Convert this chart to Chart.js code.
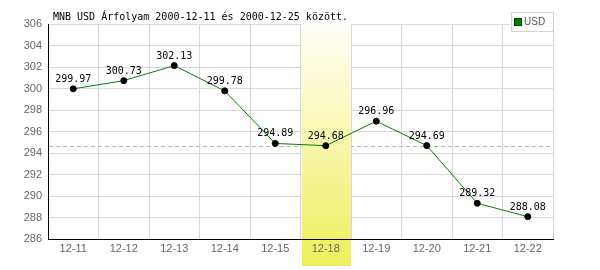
<!DOCTYPE html>
<html><head><meta charset="utf-8">
<script src="https://cdn.jsdelivr.net/npm/chart.js@4/dist/chart.umd.min.js"></script>
<style>html,body{margin:0;padding:0;background:#fff}#wrap{width:600px;height:270px;position:relative}</style>
</head><body><div id="wrap"><canvas id="c" width="600" height="270"></canvas></div>
<script>
const categories = ['12-11','12-12','12-13','12-14','12-15','12-18','12-19','12-20','12-21','12-22'];
const usdValues = [299.97,300.73,302.13,299.78,294.89,294.68,296.96,294.69,289.32,288.08];
const yTicks = [286,288,290,292,294,296,298,300,302,304,306];
const highlightCategory = '12-18';
const referenceValue = 294.68;
const titleText = 'MNB USD Árfolyam 2000-12-11 és 2000-12-25 között.';
const seriesName = 'USD';

const MONO = '10px "DejaVu Sans Mono", monospace';
const SANS = '10px "Liberation Sans", Arial, sans-serif';

const extras = {
  id: 'extras',
  beforeDatasetsDraw(chart) {
    const ctx = chart.ctx, a = chart.chartArea;
    const x = chart.scales.x, y = chart.scales.y;
    const ry = Math.round(y.getPixelForValue(referenceValue)) + 0.5;
    ctx.save();
    ctx.strokeStyle = '#99cc99';
    ctx.lineWidth = 1;
    ctx.setLineDash([4, 3]);
    ctx.beginPath(); ctx.moveTo(a.left + 1, ry); ctx.lineTo(a.right, ry); ctx.stroke();
    ctx.restore();
    const idx = categories.indexOf(highlightCategory);
    const cx = x.getPixelForValue(idx);
    const half = (x.getPixelForValue(1) - x.getPixelForValue(0)) / 2;
    const x0 = Math.round(cx - half) + 1, x1 = Math.round(cx + half);
    const top = a.top, bot = chart.height - 4;
    const g = ctx.createLinearGradient(0, top, 0, bot);
    g.addColorStop(0, '#fffff8');
    g.addColorStop(1, '#eeee5c');
    ctx.save();
    ctx.fillStyle = g;
    ctx.fillRect(x0, top, x1 - x0, bot - top);
    ctx.restore();
  },
  afterDatasetsDraw(chart) {
    const ctx = chart.ctx;
    const meta = chart.getDatasetMeta(0);
    ctx.save();
    ctx.font = MONO;
    ctx.fillStyle = '#000';
    ctx.textAlign = 'center';
    ctx.textBaseline = 'alphabetic';
    meta.data.forEach((p, i) => {
      ctx.fillText(usdValues[i].toFixed(2), p.x, p.y - 7);
    });
    ctx.restore();
  },
  afterDraw(chart) {
    const ctx = chart.ctx, a = chart.chartArea;
    ctx.save();
    ctx.font = MONO;
    ctx.fillStyle = '#000';
    ctx.textAlign = 'left';
    ctx.textBaseline = 'alphabetic';
    ctx.fillText(titleText, 53, 20);
    const lx = a.right - 42, ly = 12;
    ctx.fillStyle = '#fff';
    ctx.fillRect(lx, ly, 42, 19);
    ctx.strokeStyle = '#d4d4d4';
    ctx.lineWidth = 1;
    ctx.strokeRect(lx + 0.5, ly + 0.5, 42, 19);
    ctx.fillStyle = '#008000';
    ctx.fillRect(lx + 4, ly + 7, 6, 6);
    ctx.strokeStyle = '#004400';
    ctx.strokeRect(lx + 3.5, ly + 6.5, 7, 7);
    ctx.fillStyle = '#555';
    ctx.font = SANS;
    ctx.textBaseline = 'middle';
    ctx.fillText(seriesName, lx + 13, ly + 10.5);
    ctx.restore();
  }
};

new Chart(document.getElementById('c'), {
  type: 'line',
  data: {
    labels: categories,
    datasets: [{
      label: seriesName,
      data: usdValues,
      borderColor: '#008000',
      borderWidth: 1,
      pointRadius: 3,
      pointBorderWidth: 1,
      pointBackgroundColor: '#000',
      pointBorderColor: '#000',
      tension: 0,
      fill: false
    }]
  },
  options: {
    responsive: false,
    animation: false,
    devicePixelRatio: 1,
    layout: { padding: { top: 24, right: 47, left: 0, bottom: 0 } },
    plugins: { legend: { display: false }, title: { display: false }, tooltip: { enabled: false } },
    scales: {
      x: {
        type: 'category',
        offset: true,
        grid: { offset: true, color: '#d8d8d8', drawTicks: false, lineWidth: 1 },
        border: { color: '#000', width: 1, z: 1 },
        ticks: { color: '#666', font: { family: '"Liberation Sans", Arial, sans-serif', size: 11 }, padding: 3, autoSkip: false, maxRotation: 0, z: 1 },
        afterFit(s) { s.height = 31; }
      },
      y: {
        min: 286, max: 306,
        grid: { color: '#d8d8d8', drawTicks: false, lineWidth: 1 },
        border: { color: '#000', width: 1, z: 1 },
        afterBuildTicks(s) { s.ticks = yTicks.map(v => ({ value: v })); },
        ticks: { color: '#666', font: { family: '"Liberation Sans", Arial, sans-serif', size: 11 }, padding: 6 },
        afterFit(s) { s.width = 48; }
      }
    }
  },
  plugins: [extras]
});
</script></body></html>
